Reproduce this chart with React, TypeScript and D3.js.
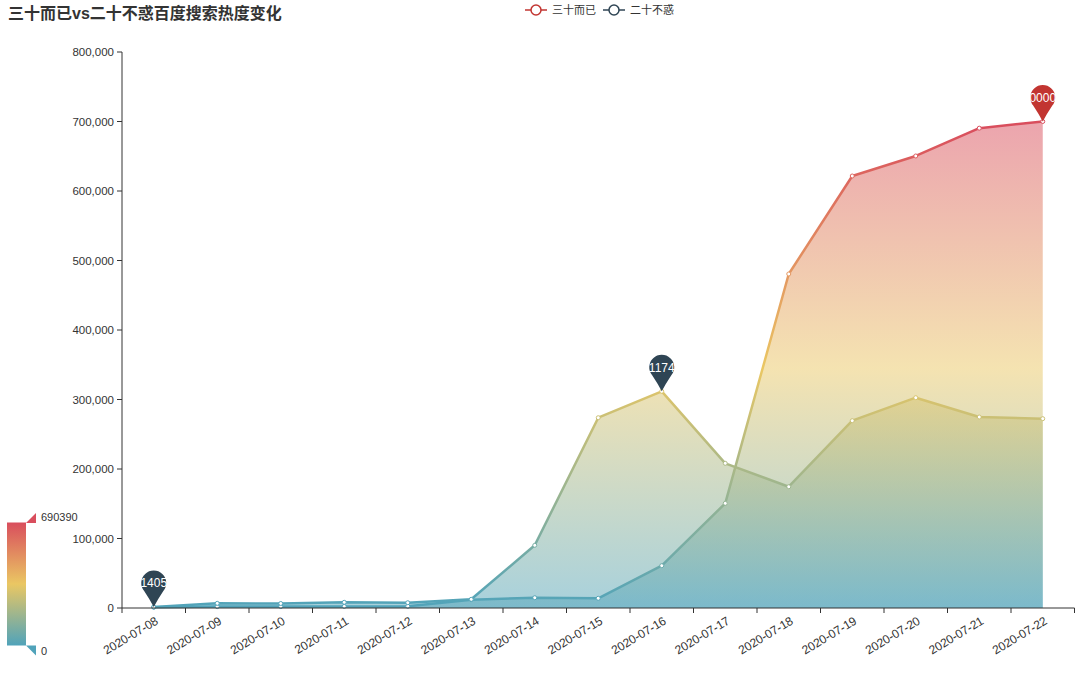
import React from "react";
import * as d3 from "d3";

const dates = [
  "2020-07-08", "2020-07-09", "2020-07-10", "2020-07-11", "2020-07-12",
  "2020-07-13", "2020-07-14", "2020-07-15", "2020-07-16", "2020-07-17",
  "2020-07-18", "2020-07-19", "2020-07-20", "2020-07-21", "2020-07-22",
];
const seriesNames = ["三十而已", "二十不惑"];
const sanshi = [1200, 2000, 2100, 2300, 2500, 12000, 14800, 14000, 60900, 150600, 480600, 621600, 650400, 690390, 700002];
const ershi = [1405, 6700, 6500, 8200, 7600, 12500, 90200, 273800, 311745, 208200, 174500, 269500, 302600, 274800, 272400];
const yTicks = [0, 100000, 200000, 300000, 400000, 500000, 600000, 700000, 800000];
const visualMin = 0;
const visualMax = 690390;
const visualColors = ["#50a3ba", "#eac763", "#d94e5d"];
const seriesColors = ["#c23531", "#2f4554"];
const titleText = "三十而已vs二十不惑百度搜索热度变化";

const W = 1080;
const H = 673;
const left = 122;
const right = 1074.5;
const top = 52;
const bottom = 608;
const FONT = "'Liberation Sans', 'Noto Sans CJK SC', sans-serif";

function pinPath(r: number, h: number) {
  const a = (50 * Math.PI) / 180;
  const lx = -r * Math.sin(a);
  const ly = -h + r * Math.cos(a);
  return `M0,0 Q${-r * 0.3},${ly * 0.45} ${lx},${ly} A${r},${r} 0 1 1 ${-lx},${ly} Q${r * 0.3},${ly * 0.45} 0,0 Z`;
}

export default function App() {
  const x = d3.scaleBand<string>().domain(dates).range([left, right]).padding(0);
  const bw = x.bandwidth();
  const px = (d: string) => (x(d) as number) + bw / 2;
  const y = d3.scaleLinear().domain([0, 800000]).range([bottom, top]);
  const fmt = d3.format(",");

  const line = d3.line<number>().x((_, i) => px(dates[i])).y((v) => y(v));
  const area = d3.area<number>().x((_, i) => px(dates[i])).y0(y(0)).y1((v) => y(v));

  const data = [sanshi, ershi];

  const boundaries = dates.map((d) => x(d) as number).concat([right]);

  const markPoints = [
    { s: 1, i: ershi.indexOf(d3.min(ershi) as number), v: d3.min(ershi) as number },
    { s: 1, i: ershi.indexOf(d3.max(ershi) as number), v: d3.max(ershi) as number },
    { s: 0, i: sanshi.indexOf(d3.max(sanshi) as number), v: d3.max(sanshi) as number },
  ];

  const pin = pinPath(12.5, 24);

  return (
    <svg
      width={W}
      height={H}
      style={{ position: "absolute", left: 0, top: 0, background: "#fff", fontFamily: FONT }}
    >
      <defs>
        <linearGradient id="vm" gradientUnits="userSpaceOnUse" x1={0} x2={0} y1={y(visualMin)} y2={y(visualMax)}>
          <stop offset="0" stopColor={visualColors[0]} />
          <stop offset="0.5" stopColor={visualColors[1]} />
          <stop offset="1" stopColor={visualColors[2]} />
        </linearGradient>
        <linearGradient id="vmbar" x1="0" x2="0" y1="1" y2="0">
          <stop offset="0" stopColor={visualColors[0]} />
          <stop offset="0.5" stopColor={visualColors[1]} />
          <stop offset="1" stopColor={visualColors[2]} />
        </linearGradient>
      </defs>

      <text x={8} y={19} fontSize={16} fontWeight="bold" fill="#333">{titleText}</text>

      {/* legend */}
      {seriesNames.map((n, i) => {
        const lx = i === 0 ? 525 : 603;
        return (
          <g key={n}>
            <line x1={lx} x2={lx + 22} y1={10} y2={10} stroke={seriesColors[i]} strokeWidth={1.5} />
            <circle cx={lx + 11} cy={10} r={5} fill="#fff" stroke={seriesColors[i]} strokeWidth={1.5} />
            <text x={lx + 27} y={10} dy="0.35em" fontSize={11} fill="#333">{n}</text>
          </g>
        );
      })}

      {/* areas */}
      {data.map((d, i) => (
        <path key={"a" + i} d={area(d) as string} fill="url(#vm)" fillOpacity={0.5} />
      ))}
      {/* lines */}
      {data.map((d, i) => (
        <path key={"l" + i} d={line(d) as string} fill="none" stroke="url(#vm)" strokeWidth={2.5} strokeLinejoin="round" />
      ))}
      {data.map((d, i) =>
        d.map((v, j) => (
          <circle key={"c" + i + "-" + j} cx={px(dates[j])} cy={y(v)} r={2} fill="#fff" stroke="url(#vm)" strokeWidth={1} />
        ))
      )}

      {/* y axis */}
      <line x1={left} x2={left} y1={top - 0} y2={bottom} stroke="#333" />
      {yTicks.map((t) => (
        <g key={t}>
          <line x1={left - 5} x2={left} y1={y(t)} y2={y(t)} stroke="#333" />
          <text x={left - 8} y={y(t)} dy="0.35em" textAnchor="end" fontSize={11.5} fill="#333">{fmt(t)}</text>
        </g>
      ))}

      {/* x axis */}
      <line x1={left} x2={right} y1={bottom} y2={bottom} stroke="#333" />
      {boundaries.map((b, i) => (
        <line key={"t" + i} x1={b} x2={b} y1={bottom} y2={bottom + 5} stroke="#333" />
      ))}
      {dates.map((d) => (
        <text
          key={d}
          transform={`translate(${px(d) + 1},${bottom + 8}) rotate(-31)`}
          textAnchor="end"
          dy="0.7em"
          fontSize={12}
          fill="#333"
        >
          {d}
        </text>
      ))}

      {/* mark points */}
      {markPoints.map((m, k) => {
        const cx = px(dates[m.i]);
        const cy = y(m.v);
        return (
          <g key={"m" + k} transform={`translate(${cx},${cy})`}>
            <path d={pin} fill={seriesColors[m.s]} />
            <text x={0} y={-24} dy="0.35em" textAnchor="middle" fontSize={12} fill="#fff">{m.v}</text>
          </g>
        );
      })}

      {/* visual map */}
      <rect x={7} y={522.5} width={19} height={123} fill="url(#vmbar)" />
      <path d="M26,523 L36,513 L36,523 Z" fill={visualColors[2]} />
      <path d="M26,645.5 L36,645.5 L36,655.5 Z" fill={visualColors[0]} />
      <text x={41} y={517} dy="0.35em" fontSize={11} fill="#333">{visualMax}</text>
      <text x={41} y={651} dy="0.35em" fontSize={11} fill="#333">{visualMin}</text>
    </svg>
  );
}
